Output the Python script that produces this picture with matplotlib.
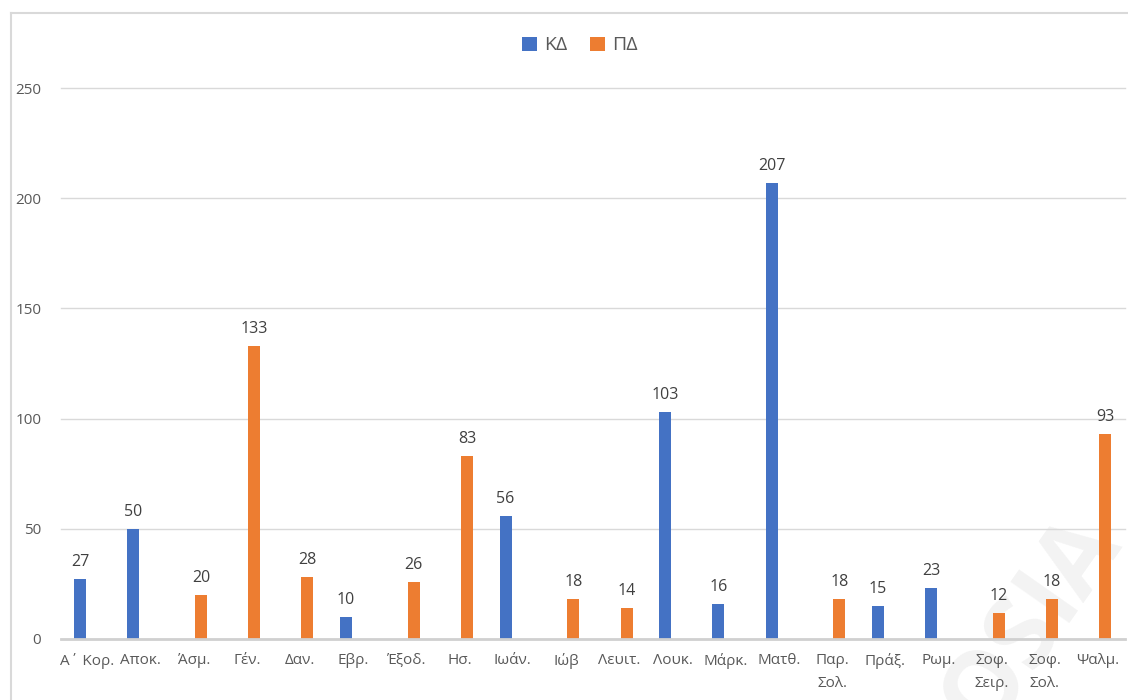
import matplotlib
matplotlib.use("Agg")
import matplotlib.pyplot as plt
import numpy as np

plt.rcParams['font.family'] = ['Open Sans', 'DejaVu Sans']

categories = ['Α΄ Κορ.', 'Αποκ.', 'Άσμ.', 'Γέν.', 'Δαν.', 'Εβρ.', 'Έξοδ.', 'Ησ.',
              'Ιωάν.', 'Ιώβ', 'Λευιτ.', 'Λουκ.', 'Μάρκ.', 'Ματθ.', 'Παρ.\nΣολ.',
              'Πράξ.', 'Ρωμ.', 'Σοφ.\nΣειρ.', 'Σοφ.\nΣολ.', 'Ψαλμ.']
kd = [27, 50, None, None, None, 10, None, None, 56, None, None, 103, 16, 207,
      None, 15, 23, None, None, None]
pd_ = [None, None, 20, 133, 28, None, 26, 83, None, 18, 14, None, None, None,
       18, None, None, 12, 18, 93]
series = [('ΚΔ', kd, '#4472C4'), ('ΠΔ', pd_, '#ED7D31')]

fig = plt.figure(figsize=(11.28, 7.0), dpi=100)
ax = fig.add_axes([60.7 / 1128, 61 / 700, (1124.6 - 60.7) / 1128, 551 / 700])
ax.patch.set_alpha(0)

x = np.arange(len(categories))
w = 0.225
offs = [-0.137, 0.137]
for (name, vals, col), off in zip(series, offs):
    v = np.array([np.nan if a is None else a for a in vals], dtype=float)
    ax.bar(x + off, v, width=w, color=col, label=name, zorder=3)
    for xi, val in zip(x + off, v):
        if not np.isnan(val):
            ax.annotate(f'{int(val)}', (xi, val), xytext=(0, 6.5), textcoords='offset points',
                        ha='center', va='bottom', fontsize=11.5, color='#404040')

ax.set_ylim(0, 250)
ax.set_xlim(-0.5, len(categories) - 0.5)
ax.set_yticks([0, 50, 100, 150, 200, 250])
ax.set_xticks(x)
ax.set_xticklabels(categories, linespacing=1.75)
ax.yaxis.grid(True, color='#D9D9D9', linewidth=1, zorder=0)
ax.set_axisbelow(True)
for s in ['top', 'right', 'left']:
    ax.spines[s].set_visible(False)
ax.spines['bottom'].set_color('#D0D0D0')
ax.spines['bottom'].set_linewidth(2)
ax.spines['bottom'].set_zorder(4)
ax.tick_params(axis='y', length=0, pad=14, labelsize=11, labelcolor='#595959')
ax.tick_params(axis='x', length=0, pad=10, labelsize=11, labelcolor='#595959')
for gl in ax.get_ygridlines():
    gl.set_clip_on(False)

fig.legend(loc='center', bbox_to_anchor=(0.514, 0.935), ncol=2, frameon=False,
           handlelength=0.75, handleheight=0.75, handletextpad=0.35, columnspacing=1.2,
           fontsize=14, labelcolor='#595959')

# chart frame
fig.add_artist(plt.Line2D([11 / 1128, 11 / 1128], [0, 1 - 13 / 700], color='#D9D9D9', lw=1.5))
fig.add_artist(plt.Line2D([11 / 1128, 1], [1 - 13 / 700, 1 - 13 / 700], color='#D9D9D9', lw=1.5))

# faint watermark behind the chart
fig.text(0.915, 0.11, 'OSIA', fontsize=72, color='#000000', alpha=0.05, rotation=55,
         ha='center', va='center', fontweight='bold', zorder=-1)

fig.savefig('out.png', dpi=100)
